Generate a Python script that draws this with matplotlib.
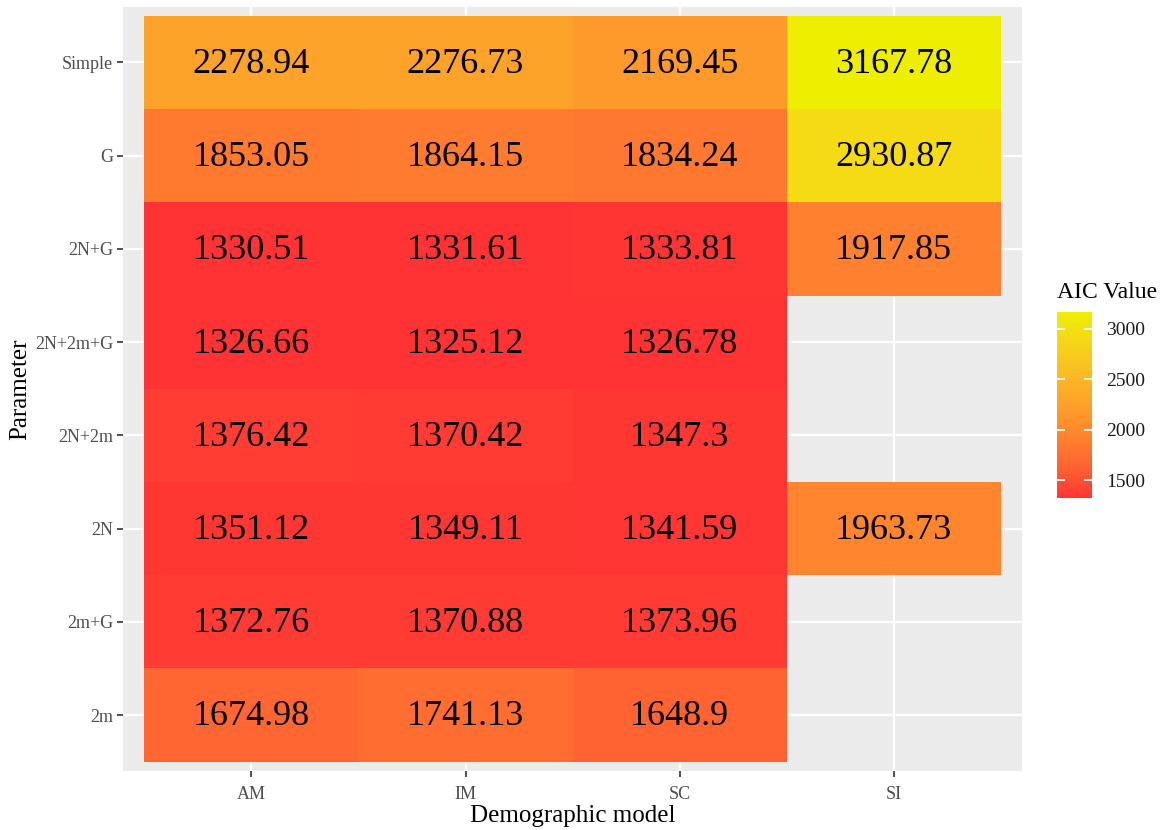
#!/usr/bin/env python3
"""
AIC heatmap: parameter set vs demographic model, ggplot-like styling.
"""

import numpy as np
import matplotlib
matplotlib.use('Agg')
import matplotlib.pyplot as plt
from matplotlib.colors import ListedColormap, Normalize
from matplotlib.colorbar import ColorbarBase

# Data
models = ['AM', 'IM', 'SC', 'SI']
params = ['Simple', 'G', '2N+G', '2N+2m+G', '2N+2m', '2N', '2m+G', '2m']  # top -> bottom

aic_am = [2278.94, 1853.05, 1330.51, 1326.66, 1376.42, 1351.12, 1372.76, 1674.98]
aic_im = [2276.73, 1864.15, 1331.61, 1325.12, 1370.42, 1349.11, 1370.88, 1741.13]
aic_sc = [2169.45, 1834.24, 1333.81, 1326.78, 1347.3, 1341.59, 1373.96, 1648.9]
aic_si = [3167.78, 2930.87, 1917.85, np.nan, np.nan, 1963.73, np.nan, np.nan]

legend_ticks = [1500, 2000, 2500, 3000]

LOW = '#FF3333'
HIGH = '#EEEE00'
SERIF = ['Liberation Serif', 'DejaVu Serif']


# --- Lab interpolation, like scales::seq_gradient_pal ---
def _srgb_to_lab(rgb):
    c = np.asarray(rgb, float)
    c = np.where(c <= 0.04045, c / 12.92, ((c + 0.055) / 1.055) ** 2.4)
    m = np.array([[0.4124, 0.3576, 0.1805],
                  [0.2126, 0.7152, 0.0722],
                  [0.0193, 0.1192, 0.9505]])
    xyz = m @ c / np.array([0.95047, 1.0, 1.08883])
    f = np.where(xyz > 0.008856, np.cbrt(xyz), 7.787 * xyz + 16 / 116)
    return np.array([116 * f[1] - 16, 500 * (f[0] - f[1]), 200 * (f[1] - f[2])])


def _lab_to_srgb(lab):
    L, a, b = lab
    fy = (L + 16) / 116
    fx = fy + a / 500
    fz = fy - b / 200
    f = np.array([fx, fy, fz])
    xyz = np.where(f ** 3 > 0.008856, f ** 3, (f - 16 / 116) / 7.787)
    xyz = xyz * np.array([0.95047, 1.0, 1.08883])
    minv = np.array([[3.2406, -1.5372, -0.4986],
                     [-0.9689, 1.8758, 0.0415],
                     [0.0557, -0.2040, 1.0570]])
    c = minv @ xyz
    c = np.where(c <= 0.0031308, 12.92 * c, 1.055 * np.clip(c, 0, None) ** (1 / 2.4) - 0.055)
    return np.clip(c, 0, 1)


def lab_cmap(c1, c2, n=256):
    l1 = _srgb_to_lab(matplotlib.colors.to_rgb(c1))
    l2 = _srgb_to_lab(matplotlib.colors.to_rgb(c2))
    cols = [_lab_to_srgb(l1 + (l2 - l1) * t) for t in np.linspace(0, 1, n)]
    return ListedColormap(cols)


def main():
    grid = np.array([aic_am, aic_im, aic_sc, aic_si]).T  # rows = params
    vmin, vmax = np.nanmin(grid), np.nanmax(grid)
    cmap = lab_cmap(LOW, HIGH)
    norm = Normalize(vmin=vmin, vmax=vmax)

    fig = plt.figure(figsize=(11.62, 8.3), dpi=100)
    ax = fig.add_axes([0.1059, 0.0711, 0.7736, 0.921])
    ax.set_facecolor('#EBEBEB')

    nrow, ncol = len(params), len(models)
    # y: bottom row index 0 = last param
    data = grid[::-1]
    xe = np.arange(ncol + 1) + 0.5
    ye = np.arange(nrow + 1) + 0.5
    ax.pcolormesh(xe, ye, np.ma.masked_invalid(data), cmap=cmap, norm=norm,
                  edgecolors='none', zorder=2)

    for i in range(nrow):
        for j in range(ncol):
            v = data[i, j]
            if np.isnan(v):
                continue
            ax.text(j + 1, i + 1 - 0.02, f'{v:.6g}', ha='center', va='center',
                    fontsize=26, family=SERIF, color='black', zorder=3)

    ax.set_xlim(0.4, ncol + 0.6)
    ax.set_ylim(0.4, nrow + 0.6)
    ax.set_xticks(np.arange(1, ncol + 1))
    ax.set_xticklabels(models)
    ax.set_yticks(np.arange(1, nrow + 1))
    ax.set_yticklabels(params[::-1])
    ax.grid(True, color='white', linewidth=1.6, zorder=1)
    ax.set_axisbelow(True)
    for s in ax.spines.values():
        s.set_visible(False)
    ax.tick_params(length=4, width=1.2, color='#333333', labelcolor='#4D4D4D',
                   labelsize=13)
    ax.tick_params(axis='x', pad=7)
    ax.tick_params(axis='y', pad=3)
    for lab in ax.get_xticklabels() + ax.get_yticklabels():
        lab.set_family(SERIF)

    ax.set_xlabel('Demographic model', fontsize=18, family=SERIF, labelpad=1)
    ax.set_ylabel('Parameter', fontsize=18, family=SERIF, labelpad=3)

    # colour bar legend
    cax = fig.add_axes([1057 / 1162, 1 - 498 / 830, 35 / 1162, 186 / 830])
    cb = ColorbarBase(cax, cmap=cmap, norm=norm, orientation='vertical')
    cb.outline.set_visible(False)
    cb.set_ticks(legend_ticks)
    cax.tick_params(length=0, labelsize=14, pad=10, labelcolor='#1A1A1A')
    for lab in cax.get_yticklabels():
        lab.set_family(SERIF)
    for t in legend_ticks:
        cax.plot([0, 0.2], [t, t], color='white', lw=1.3, transform=cax.get_yaxis_transform())
        cax.plot([0.8, 1.0], [t, t], color='white', lw=1.3, transform=cax.get_yaxis_transform())
    fig.text(1057 / 1162, 1 - 292 / 830, 'AIC Value', fontsize=17, family=SERIF,
             ha='left', va='center')

    fig.savefig('out.png', dpi=100)


if __name__ == '__main__':
    main()
